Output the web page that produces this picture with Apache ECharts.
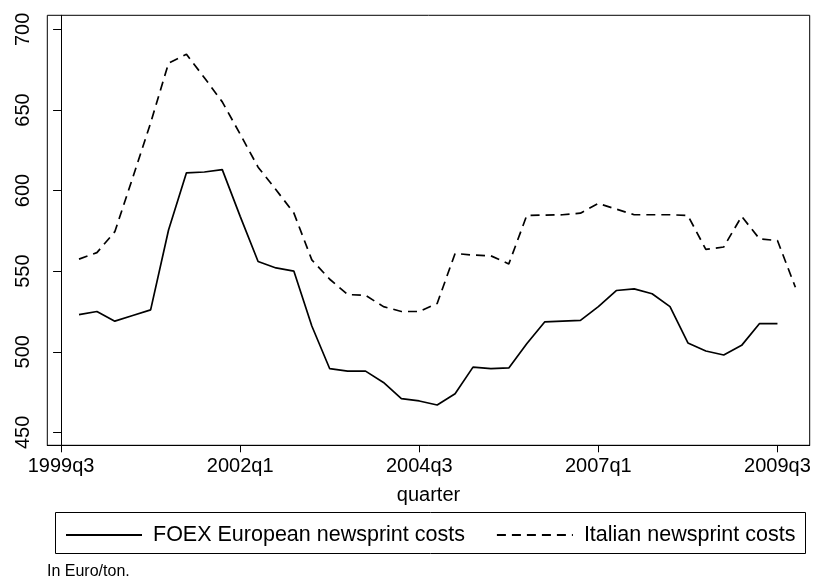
<!DOCTYPE html>
<html><head><meta charset="utf-8">
<script src="https://cdn.jsdelivr.net/npm/echarts@6/dist/echarts.min.js"></script>
<style>html,body{margin:0;padding:0;background:#fff}#c{width:818px;height:582px}</style>
</head><body><div id="c"></div>
<script>
const quarters = ['1999q3','1999q4','2000q1','2000q2','2000q3','2000q4','2001q1','2001q2','2001q3','2001q4',
  '2002q1','2002q2','2002q3','2002q4','2003q1','2003q2','2003q3','2003q4','2004q1','2004q2',
  '2004q3','2004q4','2005q1','2005q2','2005q3','2005q4','2006q1','2006q2','2006q3','2006q4',
  '2007q1','2007q2','2007q3','2007q4','2008q1','2008q2','2008q3','2008q4','2009q1','2009q2',
  '2009q3','2009q4'];
const foex = [null,523,525,519,522.5,526,575.5,611,611.5,613,
  584,556,552,550,516,489.5,488,488,481,471,
  469.5,467,474,490.5,489.5,490,505,518.5,519,519.5,
  528,538,539,536,528,505.5,500.5,498,504,517.5,
  517.5,null];
const italian = [null,557.5,561.5,574.5,608,642,679,684.5,670,655,
  635,614.5,600.5,586,557,545,535.5,535,528,525,
  525,530,561,560,559.5,554.5,584.5,584.8,585,586,
  592,588.5,585,585,585,584.5,563.5,565,584,570,
  569,540];
const xTickIdx = [0,10,20,30,40];
const yTicks = [450,500,550,600,650,700];
const seriesNames = ['FOEX European newsprint costs','Italian newsprint costs'];
const noteText = 'In Euro/ton.';
const xTitle = 'quarter';

function pairs(arr){ const out=[]; arr.forEach((v,i)=>{ if(v!==null) out.push([i,v]); }); return out; }

const FONT = 'Liberation Sans, Arial, Helvetica, sans-serif';
const chart = echarts.init(document.getElementById('c'), null, {renderer:'canvas'});
chart.setOption({
  animation:false,
  backgroundColor:'#fff',
  textStyle:{fontFamily:FONT,color:'#000'},
  grid:{left:47.3,right:8.3,top:15.3,bottom:136.7,show:true,borderColor:'#000',borderWidth:1,containLabel:false},
  xAxis:{type:'value',min:-0.77,max:41.8,
    name:xTitle,nameLocation:'middle',nameGap:40,nameTextStyle:{fontSize:20,color:'#000',fontFamily:FONT},
    axisLine:{show:true,lineStyle:{color:'#000',width:1}},
    axisTick:{show:true,length:7,customValues:xTickIdx,lineStyle:{color:'#000'}},
    axisLabel:{customValues:xTickIdx,formatter:v=>quarters[Math.round(v)],fontSize:20,color:'#000',margin:11,fontFamily:FONT},
    splitLine:{show:false}},
  yAxis:{type:'value',min:442,max:708.7,
    axisLine:{show:true,lineStyle:{color:'#000',width:1}},
    axisTick:{show:true,length:8,customValues:yTicks,lineStyle:{color:'#000'}},
    axisLabel:{customValues:yTicks,rotate:90,fontSize:20,color:'#000',margin:14,fontFamily:FONT},
    splitLine:{show:false}},
  legend:{left:60,top:519,itemWidth:76,itemHeight:14,itemGap:31,
    data:seriesNames,
    itemStyle:{color:'rgba(0,0,0,0)',borderWidth:0,opacity:0},
    formatter:n=>'{t|'+n+'}',
    textStyle:{fontSize:21.5,color:'#000',fontFamily:FONT,rich:{t:{fontSize:21.5,color:'#000',fontFamily:FONT,padding:[0,0,0,6]}}}},
  title:{text:noteText,left:47,top:564,padding:0,textStyle:{fontSize:16,fontWeight:'normal',color:'#000',fontFamily:FONT}},
  graphic:[{type:'rect',shape:{x:55.5,y:512.5,width:750,height:41},style:{fill:null,stroke:'#000',lineWidth:1},silent:true}],
  series:[
    {name:seriesNames[0],type:'line',data:pairs(foex),showSymbol:false,symbol:'none',
      lineStyle:{color:'#000',width:1.7,type:'solid'},itemStyle:{color:'#000'}},
    {name:seriesNames[1],type:'line',data:pairs(italian),showSymbol:false,symbol:'none',
      lineStyle:{color:'#000',width:1.7,type:[9,6]},itemStyle:{color:'#000'}}
  ]
});
</script></body></html>
